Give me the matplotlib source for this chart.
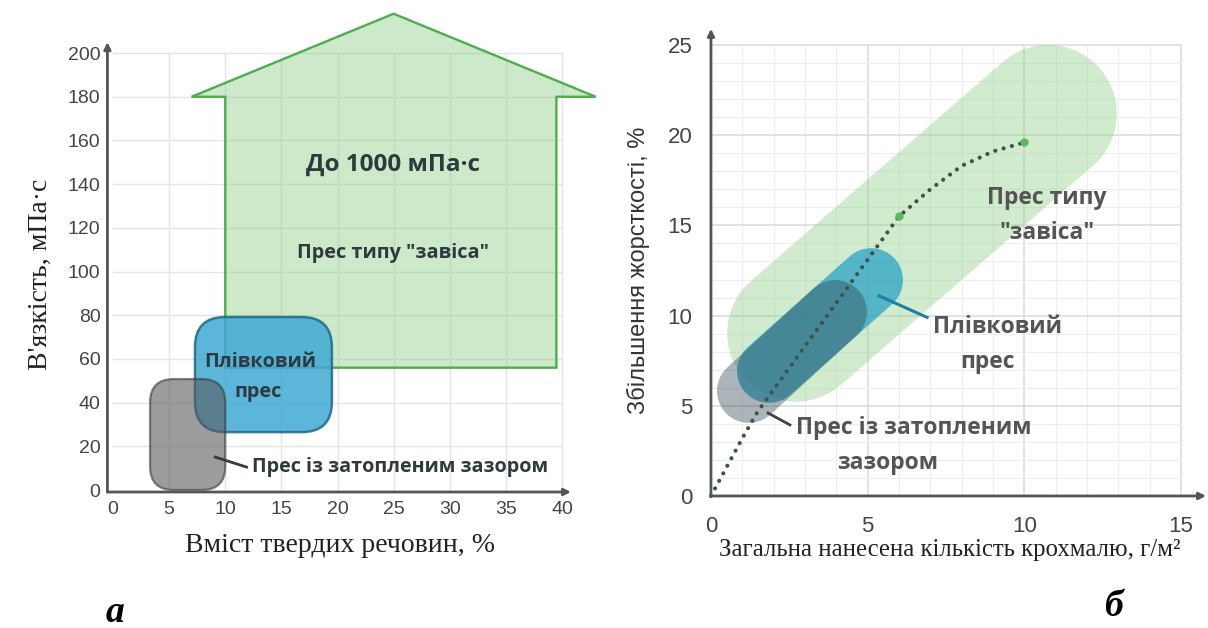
import matplotlib
matplotlib.use("Agg")
import matplotlib.pyplot as plt
from matplotlib.patches import FancyBboxPatch, Polygon

# ---------------- data: left chart (a) ----------------
left_xticks = [0, 5, 10, 15, 20, 25, 30, 35, 40]
left_yticks = [0, 20, 40, 60, 80, 100, 120, 140, 160, 180, 200]
curtain_x = [10, 39.5]          # body of "завіса" arrow (solids, %)
curtain_y = [56, 180]           # body of "завіса" arrow (viscosity)
curtain_head_x = [7, 43]        # arrow head extent
curtain_apex = [25, 218]        # arrow apex
film_x = [7.3, 19.5]            # film press region
film_y = [26.5, 79.2]
flooded_x = [3.3, 10.0]         # flooded nip press region
flooded_y = [0, 50.8]

# ---------------- data: right chart (б) ----------------
right_xticks = [0, 5, 10, 15]
right_yticks = [0, 5, 10, 15, 20, 25]
curve_x = [0, 0.5, 1, 1.5, 2, 3, 4, 5, 6, 7, 8, 9, 10]
curve_y = [0, 1.6, 3.2, 4.7, 5.9, 8.3, 10.7, 13.1, 15.5, 17.0, 18.3, 19.1, 19.6]
marker_x = [6, 10]
marker_y = [15.5, 19.6]
curtain_band_x = [2.71, 10.76]
curtain_band_y = [9.04, 21.2]
film_band_x = [1.85, 5.11]
film_band_y = [6.93, 11.97]
flooded_band_x = [1.21, 3.96]
flooded_band_y = [5.82, 10.2]

W, H = 1208, 628
fig = plt.figure(figsize=(W / 100, H / 100), dpi=100)
fig.patch.set_facecolor("white")

SANS = ["Open Sans", "DejaVu Sans"]
TICKF = ["Liberation Sans", "DejaVu Sans"]
SERIF = ["Liberation Serif", "DejaVu Serif"]
AXC = "#555555"


def px_axes(l, r, t, b):
    return [l / W, 1 - b / H, (r - l) / W, (b - t) / H]


# ======================= LEFT =======================
axl = fig.add_axes(px_axes(101.8, 606.9, 5.0, 494.4))
axl.set_xlim(-1, 44)
axl.set_ylim(-2, 222)
for s in axl.spines.values():
    s.set_visible(False)
axl.set_xticks(left_xticks)
axl.set_yticks(left_yticks)
axl.tick_params(length=0, labelsize=14, labelcolor="#444444", pad=1)
axl.tick_params(axis="x", pad=5)
for lab in axl.get_xticklabels() + axl.get_yticklabels():
    lab.set_family(TICKF)

# grid limited to the data frame
for xv in left_xticks[1:]:
    axl.plot([xv, xv], [0, left_yticks[-1]], color="#e4e4e4", lw=1, zorder=0)
for yv in left_yticks[1:]:
    axl.plot([0, left_xticks[-1]], [yv, yv], color="#e4e4e4", lw=1, zorder=0)

# green "curtain" arrow
poly = Polygon([(curtain_x[0], curtain_y[0]), (curtain_x[0], curtain_y[1]),
                (curtain_head_x[0], curtain_y[1]), (curtain_apex[0], curtain_apex[1]),
                (curtain_head_x[1], curtain_y[1]), (curtain_x[1], curtain_y[1]),
                (curtain_x[1], curtain_y[0])],
               closed=True, facecolor="#8fd08a", alpha=0.45, edgecolor="none",
               zorder=2, clip_on=False)
axl.add_patch(poly)
poly_e = Polygon(poly.get_xy(), closed=True, facecolor="none", edgecolor="#4cae4c",
                 lw=1.7, zorder=2.1, clip_on=False)
axl.add_patch(poly_e)

# aspect for rounded corners (x units -> y units at equal pixel radius)
p0 = axl.transData.transform((0, 0))
p1 = axl.transData.transform((1, 1))
asp = (p1[0] - p0[0]) / (p1[1] - p0[1])

film = FancyBboxPatch((film_x[0], film_y[0]), film_x[1] - film_x[0], film_y[1] - film_y[0],
                      boxstyle="round,pad=0,rounding_size=2.7", mutation_aspect=asp,
                      facecolor="#3fa9d4", alpha=0.85, edgecolor="#1c6a84", lw=1.8, zorder=3)
axl.add_patch(film)
flood = FancyBboxPatch((flooded_x[0], flooded_y[0]), flooded_x[1] - flooded_x[0],
                       flooded_y[1] - flooded_y[0],
                       boxstyle="round,pad=0,rounding_size=2.1", mutation_aspect=asp,
                       facecolor="#5a5a5a", alpha=0.6, edgecolor="#3a3a3a", lw=1.6, zorder=4)
axl.add_patch(flood)

# axis lines with arrows
axl.annotate("", xy=(-0.5, 205), xytext=(-0.5, -0.9),
             arrowprops=dict(arrowstyle="-|>", color=AXC, lw=2, mutation_scale=10,
                             shrinkA=0, shrinkB=0), annotation_clip=False, zorder=6)
axl.annotate("", xy=(40.8, -0.9), xytext=(-0.5, -0.9),
             arrowprops=dict(arrowstyle="-|>", color=AXC, lw=2, mutation_scale=10,
                             shrinkA=0, shrinkB=0), annotation_clip=False, zorder=6)

TXT = "#2e3a3f"
axl.text(24.9, 148.7, "До 1000 мПа·с", ha="center", va="center", fontsize=17.5,
         fontweight="bold", family=SANS, color=TXT, zorder=7)
axl.text(24.9, 108.5, "Прес типу \"завіса\"", ha="center", va="center", fontsize=14.3,
         fontweight="bold", family=SANS, color=TXT, zorder=7)
axl.text(13.1, 58.6, "Плівковий", ha="center", va="center", fontsize=14.3,
         fontweight="bold", family=SANS, color=TXT, zorder=7)
axl.text(12.9, 44.9, "прес", ha="center", va="center", fontsize=14.3,
         fontweight="bold", family=SANS, color=TXT, zorder=7)
axl.plot([9.1, 11.9], [15.1, 10.5], color="#3a3a3a", lw=2, zorder=7)
axl.text(12.4, 10.5, "Прес із затопленим зазором", ha="left", va="center", fontsize=14.2,
         fontweight="bold", family=SANS, color=TXT, zorder=7)

axl.set_xlabel("Вміст твердих речовин, %", family=SERIF, fontsize=20, color="#222222",
               va="center")
axl.xaxis.set_label_coords(0.4716, -0.1034)
axl.set_ylabel("В'язкість, мПа·с", family=SERIF, fontsize=20, color="#222222",
               va="center")
axl.yaxis.set_label_coords(-0.1224, 0.4504)

# ======================= RIGHT =======================
axr = fig.add_axes(px_axes(695.3, 1207.6, 18.0, 510.4))
axr.set_xlim(-0.5, 15.85)
axr.set_ylim(-0.8, 26.5)
for s in axr.spines.values():
    s.set_visible(False)
axr.set_xticks(right_xticks)
axr.set_yticks(right_yticks)
axr.tick_params(length=0, labelsize=16, labelcolor="#444444", pad=2)
axr.tick_params(axis="x", pad=4)
for lab in axr.get_xticklabels() + axr.get_yticklabels():
    lab.set_family(TICKF)

xmax, ymax = right_xticks[-1], right_yticks[-1]
for xv in range(1, xmax + 1):
    major = xv % 5 == 0
    axr.plot([xv, xv], [0, ymax], color="#dadada" if major else "#eeeeee",
             lw=1.1 if major else 0.8, zorder=0)
for yv in range(1, ymax + 1):
    major = yv % 5 == 0
    axr.plot([0, xmax], [yv, yv], color="#dadada" if major else "#eeeeee",
             lw=1.1 if major else 0.8, zorder=0)

# bands (thick round-capped lines)
axr.plot(curtain_band_x, curtain_band_y, color="#8fd08a", alpha=0.42, lw=99,
         solid_capstyle="round", zorder=2)
axr.plot(film_band_x, film_band_y, color="#2ba3c6", alpha=0.75, lw=46,
         solid_capstyle="round", zorder=3)
axr.plot(flooded_band_x, flooded_band_y, color="#2f4450", alpha=0.4, lw=46,
         solid_capstyle="round", zorder=4)

axr.plot(curve_x, curve_y, color="#3d5248", lw=3, ls=(0, (0.01, 2.05)),
         dash_capstyle="round", zorder=5)
axr.plot(marker_x, marker_y, "o", color="#5cb85c", ms=6, mec="none", zorder=6)

axr.annotate("", xy=(0, 25.9), xytext=(0, 0),
             arrowprops=dict(arrowstyle="-|>", color=AXC, lw=2, mutation_scale=10,
                             shrinkA=0, shrinkB=0), annotation_clip=False, zorder=6)
axr.annotate("", xy=(15.8, 0), xytext=(0, 0),
             arrowprops=dict(arrowstyle="-|>", color=AXC, lw=2, mutation_scale=10,
                             shrinkA=0, shrinkB=0), annotation_clip=False, zorder=6)

RTXT = "#555555"
axr.text(10.72, 16.5, "Прес типу", ha="center", va="center", fontsize=16.5,
         fontweight="bold", family=SANS, color=RTXT, zorder=7)
axr.text(10.72, 14.6, "\"завіса\"", ha="center", va="center", fontsize=16.5,
         fontweight="bold", family=SANS, color=RTXT, zorder=7)
axr.plot([5.36, 6.9], [11.1, 9.9], color="#1f7fa5", lw=2.2, zorder=7)
axr.text(9.13, 9.37, "Плівковий", ha="center", va="center", fontsize=16.5,
         fontweight="bold", family=SANS, color=RTXT, zorder=7)
axr.text(8.81, 7.43, "прес", ha="center", va="center", fontsize=16.5,
         fontweight="bold", family=SANS, color=RTXT, zorder=7)
axr.plot([1.82, 2.52], [4.6, 3.94], color="#444444", lw=2, zorder=7)
axr.text(6.48, 3.77, "Прес із затопленим", ha="center", va="center", fontsize=16.5,
         fontweight="bold", family=SANS, color=RTXT, zorder=7)
axr.text(5.65, 1.83, "зазором", ha="center", va="center", fontsize=16.5,
         fontweight="bold", family=SANS, color=RTXT, zorder=7)

axr.set_xlabel("Загальна нанесена кількість крохмалю, г/м²", family=SERIF, fontsize=17.8,
               color="#222222", va="center")
axr.xaxis.set_label_coords(0.497, -0.0804)
axr.set_ylabel("Збільшення жорсткості, %", family=TICKF, fontsize=17,
               color="#333333", va="center")
axr.yaxis.set_label_coords(-0.1118, 0.488)

# panel letters
fig.text(115 / W, 1 - 612 / H, "а", family=SERIF, fontsize=27, fontweight="bold",
         fontstyle="italic", ha="center", va="center")
fig.text(1113 / W, 1 - 607 / H, "б", family=SERIF, fontsize=27, fontweight="bold",
         fontstyle="italic", ha="center", va="center")

fig.savefig("out.png", dpi=100, facecolor="white")
